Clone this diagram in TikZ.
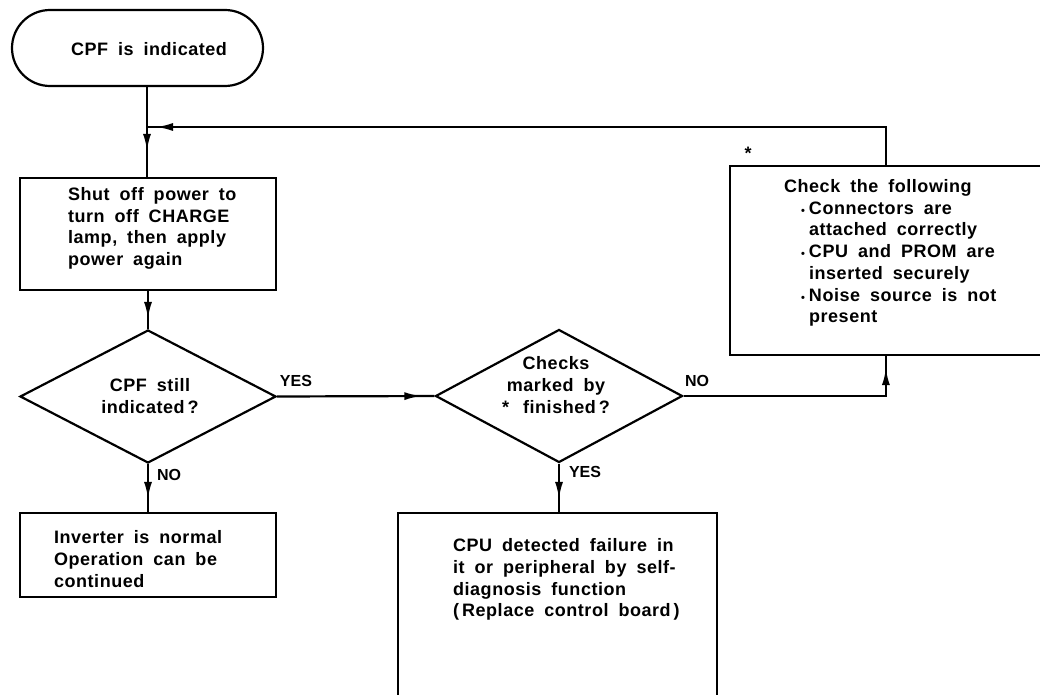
\documentclass[tikz,border=0pt]{standalone}
\usepackage{fontspec}
\setmainfont{Liberation Sans}[LetterSpace=3,WordSpace=1.8]
\newfontfamily\lblfont{Liberation Sans}
\usetikzlibrary{arrows.meta,decorations.markings,shapes.geometric}
\begin{document}
\begin{tikzpicture}[x=1pt,y=-1pt,line width=2.2pt,
  term/.style={draw,rectangle,rounded corners=38pt,inner sep=0pt},
  box/.style={draw,rectangle,inner sep=0pt},
  dia/.style={draw,diamond,inner sep=0pt},
  txt/.style={align=left,anchor=west,inner sep=0pt,font=\bfseries\fontsize{18}{21.7}\selectfont},
  ctxt/.style={align=center,inner sep=0pt,font=\bfseries\fontsize{18}{21.7}\selectfont},
  lbl/.style={inner sep=0pt,font=\lblfont\bfseries\fontsize{16}{18}\selectfont},
  midarr/.style={postaction={decorate},decoration={markings,
     mark=at position #1 with {\arrow{Latex[length=17pt,width=8pt]}}}}]
\useasboundingbox (0,0) rectangle (1040,695);
\clip (0,0) rectangle (1040,695);
% nodes
\node[term,minimum width=251pt,minimum height=76pt] (start) at (137.5,48) {};
\node[ctxt] (t0) at (149,49) {CPF is indicated};
\node[box,minimum width=256pt,minimum height=112pt] (box1) at (148,234) {};
\node[txt] (t1) at (67,228.5) {Shut off power to\\turn off CHARGE\\lamp, then apply\\power again};
\node[dia,minimum width=256pt,minimum height=133pt] (d1) at (148,396.5) {};
\node[ctxt] (t1d) at (150,396) {CPF still\\indicated\,?};
\node[box,minimum width=256pt,minimum height=84pt] (box2) at (148,555) {};
\node[txt] (t2) at (53,559) {Inverter is normal\\Operation can be\\continued};
\node[dia,minimum width=247pt,minimum height=133pt] (d2) at (559,396) {};
\node[ctxt] (t2d) at (556,385) {Checks\\marked by\\*\hspace{14pt}finished\,?};
\node[box,minimum width=319pt,minimum height=197pt] (box3) at (557.5,611.5) {};
\node[txt] (t3) at (452,579.5) {CPU detected failure in\\it or peripheral by self-\\diagnosis function\\(\,Replace control board\,)};
\node[box,minimum width=330pt,minimum height=189pt] (rbox) at (895,260.5) {};
\node[txt] (t4) at (783,253) {Check the following\\
\hspace*{17pt}{\fontsize{11}{11}\selectfont\textbullet}\hspace{4pt}Connectors are\\
\hspace*{25pt}attached correctly\\
\hspace*{17pt}{\fontsize{11}{11}\selectfont\textbullet}\hspace{4pt}CPU and PROM are\\
\hspace*{25pt}inserted securely\\
\hspace*{17pt}{\fontsize{11}{11}\selectfont\textbullet}\hspace{4pt}Noise source is not\\
\hspace*{25pt}present};
\node[ctxt] (star) at (748,153) {*};
% labels
\node[lbl] (lyes1) at (296,381) {YES};
\node[lbl] (lno1) at (697,381) {NO};
\node[lbl] (lno2) at (169,475) {NO};
\node[lbl] (lyes2) at (585,472) {YES};
% connectors
\coordinate (j) at (147,127);
\coordinate (rt) at ([xshift=157pt]rbox.north west);
\coordinate (rb) at ([xshift=157pt]rbox.south west);
\draw[midarr=-26pt] (j |- start.south) -- (j |- box1.north);
\draw[midarr=-9pt] (rt) |- (j);
\draw[midarr=-10pt] (d1.north |- box1.south) -- (d1.north);
\draw[midarr=-13pt] (d1.south) -- (d1.south |- box2.north);
\draw[midarr=-13pt] (d1.east) -- (d2.west);
\draw[midarr=-13pt] (d2.south) -- (d2.south |- box3.north);
\draw[midarr=-12pt] (d2.east) -| (rb);
\end{tikzpicture}
\end{document}
